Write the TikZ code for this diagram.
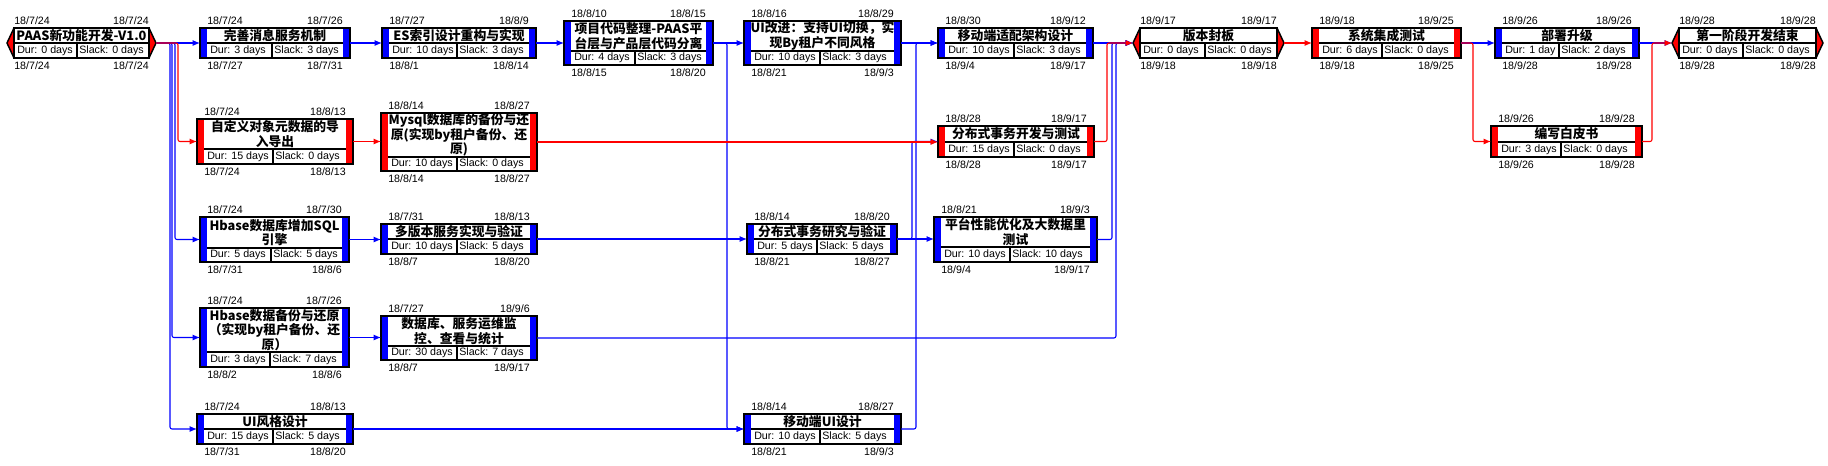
\documentclass[tikz,border=0pt]{standalone}
\usepackage{fontspec}
\setmainfont{Liberation Sans}
\newfontfamily\cjk{Noto Sans CJK SC}
\usetikzlibrary{fit,arrows.meta}
\definecolor{tblue}{RGB}{0,0,255}
\definecolor{tred}{RGB}{255,0,0}
\tikzset{
  boxline/.style={draw=black, line width=1.1pt},
  cellrule/.style={draw=black, line width=0.9pt},
  datetext/.style={font=\fontsize{8}{9}\selectfont, inner sep=0pt},
  celltext/.style={font=\fontsize{8}{9}\selectfont, inner sep=0pt, anchor=west},
  titletext/.style={font=\cjk\bfseries\fontsize{9.6}{11}\selectfont, align=center, inner sep=0pt},
  link/.style={draw=tblue, line width=0.8pt, rounded corners=1.5pt, -{Latex[length=5.5pt,width=4.5pt]}},
  critlink/.style={link, draw=tred},
}
% #1 name, #2 x1, #3 x2, #4 top, #5 bottom, #6 mid, #7 colour, #8 kind (1 = milestone), #9 title
\newcommand\TB[9]{%
  \gdef\Cxa{#2}\gdef\Cxb{#3}\gdef\Ctop{#4}\gdef\Cbot{#5}\gdef\Cmid{#6}%
  \coordinate (#1-nw) at (#2,#4);
  \coordinate (#1-se) at (#3,#5);
  \node[fit=(#1-nw)(#1-se), inner sep=0pt, outer sep=0pt, fill=white] (#1) {};
  \ifnum#8=1
    \coordinate (#1-l) at (#2-7,{(#4+#5)/2});
    \coordinate (#1-r) at (#3+7,{(#4+#5)/2});
    \fill[#7] (#1-nw) -- (#1-l) -- (#2,#5) -- cycle;
    \fill[#7] (#3,#4) -- (#1-r) -- (#1-se) -- cycle;
    \draw[boxline] (#1-nw) -- (#1-l) -- (#2,#5) -- (#1-se) -- (#1-r) -- (#3,#4) -- cycle;
  \else
    \fill[#7] (#2,#4) rectangle (#2+7,#5);
    \fill[#7] (#3-7,#4) rectangle (#3,#5);
  \fi
  \draw[boxline] (#1-nw) rectangle (#1-se);
  \node[titletext] (#1-title) at ({(#2+#3)/2},{(#4+#6)/2}) {#9};
}
% #1 name, #2 divider x, #3 dur, #4 slack, #5 TL, #6 TR, #7 BL, #8 BR, #9 bar width
\newcommand\TI[9]{%
  \draw[cellrule] (\Cxa+#9,\Cmid) -- (\Cxb-#9,\Cmid);
  \draw[cellrule] (#2,\Cmid) -- (#2,\Cbot);
  \node[celltext] (#1-dur) at (\Cxa+#9+3,{(\Cmid+\Cbot)/2}) {Dur: #3};
  \node[celltext] (#1-slack) at (#2+2,{(\Cmid+\Cbot)/2}) {Slack: #4};
  \node[datetext, anchor=base west] (#1-tl) at (\Cxa+#9,\Ctop-3.5) {#5};
  \node[datetext, anchor=base east] (#1-tr) at (\Cxb-#9,\Ctop-3.5) {#6};
  \node[datetext, anchor=base west] (#1-bl) at (\Cxa+#9,\Cbot+11) {#7};
  \node[datetext, anchor=base east] (#1-br) at (\Cxb-#9,\Cbot+11) {#8};
}
\begin{document}
\begin{tikzpicture}[x=0.75pt,y=-0.75pt]
\useasboundingbox (0,0) rectangle (1828,465);
\fill[white] (0,0) rectangle (1828,465);

% ---------- boxes ----------
\TB{p}{14}{149}{28}{58}{43}{tred}{1}{PAAS新功能开发-V1.0}
\TI{p}{77}{0 days}{0 days}{18/7/24}{18/7/24}{18/7/24}{18/7/24}{0}
\TB{wx}{200}{350}{28}{58}{43}{tblue}{0}{完善消息服务机制}
\TI{wx}{272}{3 days}{3 days}{18/7/24}{18/7/26}{18/7/27}{18/7/31}{7}
\TB{es}{382}{536}{28}{58}{43}{tblue}{0}{ES索引设计重构与实现}
\TI{es}{457}{10 days}{3 days}{18/7/27}{18/8/9}{18/8/1}{18/8/14}{7}
\TB{xm}{564}{713}{21}{65}{51}{tblue}{0}{项目代码整理-PAAS平\\台层与产品层代码分离}
\TI{xm}{635}{4 days}{3 days}{18/8/10}{18/8/15}{18/8/15}{18/8/20}{7}
\TB{ui}{744}{901}{21}{65}{51}{tblue}{0}{UI改进：支持UI切换，实\\现By租户不同风格}
\TI{ui}{820}{10 days}{3 days}{18/8/16}{18/8/29}{18/8/21}{18/9/3}{7}
\TB{yd}{938}{1093}{28}{58}{43}{tblue}{0}{移动端适配架构设计}
\TI{yd}{1014}{10 days}{3 days}{18/8/30}{18/9/12}{18/9/4}{18/9/17}{7}
\TB{fb}{1140}{1277}{28}{58}{43}{tred}{1}{版本封板}
\TI{fb}{1205}{0 days}{0 days}{18/9/17}{18/9/17}{18/9/18}{18/9/18}{0}
\TB{xt}{1312}{1461}{28}{58}{43}{tred}{0}{系统集成测试}
\TI{xt}{1382}{6 days}{0 days}{18/9/18}{18/9/25}{18/9/18}{18/9/25}{7}
\TB{bs}{1495}{1639}{28}{58}{43}{tblue}{0}{部署升级}
\TI{bs}{1559}{1 day}{2 days}{18/9/26}{18/9/26}{18/9/28}{18/9/28}{7}
\TB{jd}{1679}{1816}{28}{58}{43}{tred}{1}{第一阶段开发结束}
\TI{jd}{1743}{0 days}{0 days}{18/9/28}{18/9/28}{18/9/28}{18/9/28}{0}

\TB{zd}{197}{353}{119}{164}{149}{tred}{0}{自定义对象元数据的导\\入导出}
\TI{zd}{273}{15 days}{0 days}{18/7/24}{18/8/13}{18/7/24}{18/8/13}{7}
\TB{my}{381}{537}{113}{171}{157}{tred}{0}{Mysql数据库的备份与还\\原(实现by租户备份、还\\原)}
\TI{my}{457}{10 days}{0 days}{18/8/14}{18/8/27}{18/8/14}{18/8/27}{7}
\TB{fk}{938}{1094}{126}{157}{142}{tred}{0}{分布式事务开发与测试}
\TI{fk}{1014}{15 days}{0 days}{18/8/28}{18/9/17}{18/8/28}{18/9/17}{7}
\TB{bp}{1491}{1642}{126}{157}{142}{tred}{0}{编写白皮书}
\TI{bp}{1561}{3 days}{0 days}{18/9/26}{18/9/28}{18/9/26}{18/9/28}{7}

\TB{hs}{200}{349}{217}{262}{248}{tblue}{0}{Hbase数据库增加SQL\\引擎}
\TI{hs}{271}{5 days}{5 days}{18/7/24}{18/7/30}{18/7/31}{18/8/6}{7}
\TB{dv}{381}{537}{224}{254}{239}{tblue}{0}{多版本服务实现与验证}
\TI{dv}{457}{10 days}{5 days}{18/7/31}{18/8/13}{18/8/7}{18/8/20}{7}
\TB{fy}{747}{897}{224}{254}{239}{tblue}{0}{分布式事务研究与验证}
\TI{fy}{817}{5 days}{5 days}{18/8/14}{18/8/20}{18/8/21}{18/8/27}{7}
\TB{pt}{934}{1097}{217}{262}{247}{tblue}{0}{平台性能优化及大数据里\\测试}
\TI{pt}{1010}{10 days}{10 days}{18/8/21}{18/9/3}{18/9/4}{18/9/17}{7}

\TB{hb}{200}{349}{308}{367}{352}{tblue}{0}{Hbase数据备份与还原\\（实现by租户备份、还\\原）}
\TI{hb}{270}{3 days}{7 days}{18/7/24}{18/7/26}{18/8/2}{18/8/6}{7}
\TB{yw}{381}{537}{316}{360}{346}{tblue}{0}{数据库、服务运维监\\控、查看与统计}
\TI{yw}{457}{30 days}{7 days}{18/7/27}{18/9/6}{18/8/7}{18/9/17}{7}

\TB{uf}{197}{353}{414}{444}{429}{tblue}{0}{UI风格设计}
\TI{uf}{273}{15 days}{5 days}{18/7/24}{18/8/13}{18/7/31}{18/8/20}{7}
\TB{yu}{744}{901}{414}{444}{429}{tblue}{0}{移动端UI设计}
\TI{yu}{820}{10 days}{5 days}{18/8/14}{18/8/27}{18/8/21}{18/9/3}{7}

% ---------- routing columns ----------
\coordinate (vA) at (178,0);
\coordinate (vB) at (175,0);
\coordinate (vC) at (172,0);
\coordinate (vD) at (170,0);
\coordinate (vE) at (727,0);
\coordinate (vF) at (912,0);
\coordinate (vG) at (916,0);
\coordinate (vH) at (1107,0);
\coordinate (vI) at (1112,0);
\coordinate (vJ) at (1116,0);
\coordinate (vK) at (1473,0);
\coordinate (vL) at (1652,0);

% ---------- non-critical links ----------
\draw[link] (p-r) -- (p-r -| wx.west);
\draw[link] (p-r) -| (vB |- hs.west) -- (hs.west);
\draw[link] (p-r) -| (vC |- hb.west) -- (hb.west);
\draw[link] (p-r) -| (vD |- uf.west) -- (uf.west);
\draw[link] (wx.east) -- (es.west);
\draw[link] (es.east) -- (xm.west);
\draw[link] (xm.east) -- (ui.west);
\draw[link] (xm.east) -| (vE |- yu.west) -- (yu.west);
\draw[link] (ui.east) -- (yd.west);
\draw[link] (yd.east) -- (fb-l);
\draw[link] (hs.east) -- (hs.east -| dv.west);
\draw[link] (dv.east) -- (fy.west);
\draw[link] (fy.east) -- (fy.east -| pt.west);
\draw[link] (fy.east) -| (vF |- fk.west) -- (fk.west);
\draw[link] (pt.east) -| (vI |- fb-l) -- (fb-l);
\draw[link] (hb.east) -- (hb.east -| yw.west);
\draw[link] (yw.east) -| (vJ |- fb-l) -- (fb-l);
\draw[link] (uf.east) -- (yu.west);
\draw[link] (yu.east) -| (vG |- yd.west) -- (yd.west);
\draw[link] (xt.east) -- (bs.west);
\draw[link] (bs.east) -- (jd-l);

% ---------- critical links ----------
\draw[critlink] (p-r) -| (vA |- zd.west) -- (zd.west);
\draw[critlink] (zd.east) -- (zd.east -| my.west);
\draw[critlink] (my.east) -- (my.east -| fk.west);
\draw[critlink] (fk.east) -| (vH |- fb-l) -- (fb-l);
\draw[critlink] (fb-r) -- (xt.west);
\draw[critlink] (xt.east) -| (vK |- bp.west) -- (bp.west);
\draw[critlink] (bp.east) -| (vL |- jd-l) -- (jd-l);
\end{tikzpicture}
\end{document}
